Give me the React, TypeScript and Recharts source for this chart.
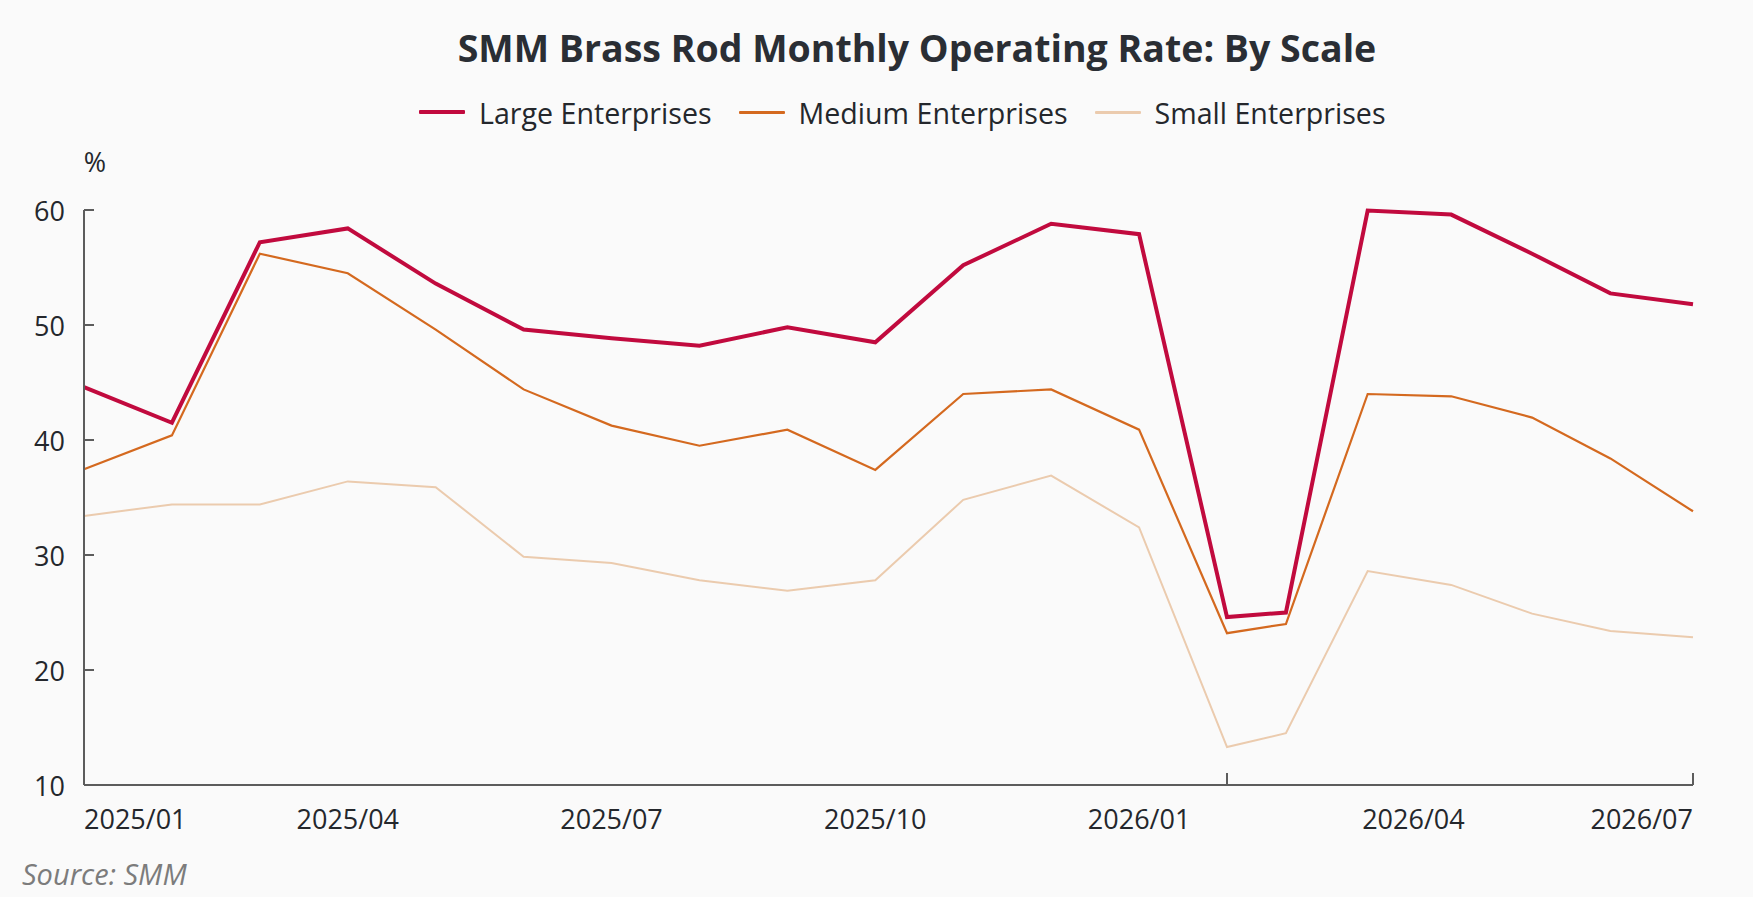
import React from 'react';
import { LineChart, Line, XAxis, YAxis } from 'recharts';

// months since 2025/01 at which each observation is plotted
const monthOffset = [0, 1, 2, 3, 4, 5, 6, 7, 8, 9, 10, 11, 12, 13, 13.67, 14.6, 15.55, 16.47, 17.36, 18.3];
const periods = [
  '2025/01', '2025/02', '2025/03', '2025/04', '2025/05', '2025/06', '2025/07', '2025/08', '2025/09', '2025/10',
  '2025/11', '2025/12', '2026/01', '2026/02', '2026/02b', '2026/03', '2026/04', '2026/05', '2026/06', '2026/07',
];
const largeRate = [44.6, 41.5, 57.2, 58.4, 53.6, 49.6, 48.85, 48.2, 49.8, 48.5, 55.2, 58.8, 57.9, 24.6, 25.0, 59.95, 59.6, 56.2, 52.75, 51.8];
const mediumRate = [37.45, 40.4, 56.2, 54.5, 49.6, 44.4, 41.25, 39.5, 40.9, 37.4, 44.0, 44.4, 40.9, 23.2, 24.0, 44.0, 43.8, 41.95, 38.4, 33.8];
const smallRate = [33.4, 34.4, 34.4, 36.4, 35.9, 29.85, 29.3, 27.8, 26.9, 27.8, 34.8, 36.9, 32.4, 13.3, 14.5, 28.6, 27.4, 24.9, 23.4, 22.85];

const yTicks = [10, 20, 30, 40, 50, 60];
const xTickValues = [0, 3, 6, 9, 12, 13, 15.12, 18.3];
const xTickLabels = ['2025/01', '2025/04', '2025/07', '2025/10', '2026/01', '', '2026/04', '2026/07'];
const xTickMarks = [13, 18.3];

const seriesNames = ['Large Enterprises', 'Medium Enterprises', 'Small Enterprises'];
const seriesColors = ['#C10A3E', '#D4691F', '#EBCBAE'];
const seriesWidths = [4, 2.2, 2];

const data = monthOffset.map((m, i) => ({
  m,
  period: periods[i],
  large: largeRate[i],
  medium: mediumRate[i],
  small: smallRate[i],
}));

const FONT = '"Open Sans", "Noto Sans", sans-serif';
const AXIS_COLOR = '#5c5c5c';
const TEXT_COLOR = '#24272c';
const X_MARGIN = 33;
const Y_MARGIN = 19;

const XTick = (props: any) => {
  const { x, y, payload } = props;
  const v = payload.value;
  const idx = xTickValues.indexOf(v);
  const label = idx >= 0 ? xTickLabels[idx] : '';
  const axisY = y - X_MARGIN;
  let anchor: 'start' | 'middle' | 'end' = 'middle';
  if (idx === 0) anchor = 'start';
  if (idx === xTickValues.length - 1) anchor = 'end';
  return (
    <g>
      {xTickMarks.includes(v) && (
        <line x1={x} x2={x} y1={axisY} y2={axisY - 12} stroke={AXIS_COLOR} strokeWidth={2} />
      )}
      {label && (
        <text x={x} y={y} textAnchor={anchor} dominantBaseline="central" fontSize={27} fill={TEXT_COLOR} fontFamily={FONT}>
          {label}
        </text>
      )}
    </g>
  );
};

const YTick = (props: any) => {
  const { x, y, payload } = props;
  const axisX = x + Y_MARGIN;
  return (
    <g>
      <line x1={axisX} x2={axisX + 10} y1={y} y2={y} stroke={AXIS_COLOR} strokeWidth={2} />
      <text x={x} y={y} textAnchor="end" dominantBaseline="central" fontSize={27} fill={TEXT_COLOR} fontFamily={FONT}>
        {payload.value}
      </text>
    </g>
  );
};

export default function App() {
  return (
    <div
      style={{
        position: 'absolute',
        left: 0,
        top: 0,
        width: 1753,
        height: 897,
        background: '#fafafa',
        overflow: 'hidden',
        fontFamily: FONT,
      }}
    >
      <div
        style={{
          position: 'absolute',
          left: 917,
          top: 27,
          height: 40,
          transform: 'translateX(-50%)',
          whiteSpace: 'nowrap',
          display: 'flex',
          alignItems: 'center',
          fontSize: 37.5,
          fontWeight: 700,
          color: '#2a2e34',
        }}
      >
        SMM Brass Rod Monthly Operating Rate: By Scale
      </div>

      <div
        style={{
          position: 'absolute',
          left: 419,
          top: 92,
          height: 40,
          display: 'flex',
          alignItems: 'center',
          whiteSpace: 'nowrap',
          fontSize: 28.6,
          color: TEXT_COLOR,
        }}
      >
        {seriesNames.map((name, i) => (
          <div key={name} style={{ display: 'flex', alignItems: 'center', marginRight: i < 2 ? 27 : 0 }}>
            <div style={{ width: 46, height: i === 0 ? 4 : 3, background: seriesColors[i], marginRight: 14, borderRadius: 1 }} />
            <span>{name}</span>
          </div>
        ))}
      </div>

      <div
        style={{
          position: 'absolute',
          left: 95,
          top: 141,
          height: 40,
          transform: 'translateX(-50%)',
          display: 'flex',
          alignItems: 'center',
          fontSize: 27,
          color: TEXT_COLOR,
        }}
      >
        %
      </div>

      <div
        style={{
          position: 'absolute',
          left: 22,
          top: 853,
          height: 40,
          display: 'flex',
          alignItems: 'center',
          fontSize: 29,
          fontStyle: 'italic',
          color: '#7c7c7c',
          whiteSpace: 'nowrap',
        }}
      >
        Source: SMM
      </div>

      <div style={{ position: 'absolute', left: 0, top: 0 }}>
        <LineChart width={1753} height={897} data={data} margin={{ top: 210, right: 60, bottom: 72, left: 24 }}>
          <XAxis
            type="number"
            dataKey="m"
            domain={[0, 18.3]}
            ticks={xTickValues}
            interval={0}
            height={40}
            tickSize={0}
            tickMargin={X_MARGIN}
            tickLine={false}
            axisLine={{ stroke: AXIS_COLOR, strokeWidth: 2 }}
            tick={<XTick />}
            allowDecimals
          />
          <YAxis
            type="number"
            domain={[10, 60]}
            ticks={yTicks}
            interval={0}
            width={60}
            tickSize={0}
            tickMargin={Y_MARGIN}
            tickLine={false}
            axisLine={{ stroke: AXIS_COLOR, strokeWidth: 2 }}
            tick={<YTick />}
          />
          <Line
            type="linear"
            dataKey="small"
            name={seriesNames[2]}
            stroke={seriesColors[2]}
            strokeWidth={seriesWidths[2]}
            dot={false}
            activeDot={false}
            isAnimationActive={false}
          />
          <Line
            type="linear"
            dataKey="medium"
            name={seriesNames[1]}
            stroke={seriesColors[1]}
            strokeWidth={seriesWidths[1]}
            dot={false}
            activeDot={false}
            isAnimationActive={false}
          />
          <Line
            type="linear"
            dataKey="large"
            name={seriesNames[0]}
            stroke={seriesColors[0]}
            strokeWidth={seriesWidths[0]}
            dot={false}
            activeDot={false}
            isAnimationActive={false}
          />
        </LineChart>
      </div>
    </div>
  );
}
